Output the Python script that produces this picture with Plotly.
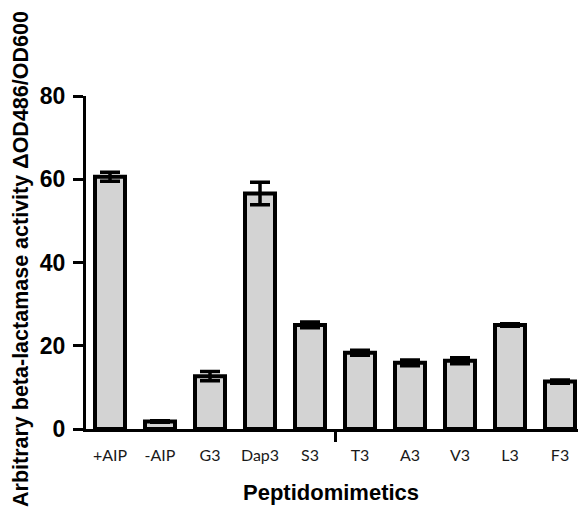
import plotly.graph_objects as go

categories = ["+AIP", "-AIP", "G3", "Dap3", "S3", "T3", "A3", "V3", "L3", "F3"]
values = [60.6, 1.8, 12.7, 56.6, 25.0, 18.3, 15.9, 16.4, 25.0, 11.4]
errors = [1.1, 0.2, 1.1, 2.7, 0.7, 0.6, 0.7, 0.7, 0.3, 0.4]
y_ticks = [0, 20, 40, 60, 80]
extra_tick = [4.5]

positions = list(range(len(categories)))

W, H = 579, 512
PL, PT, PW, PH = 86, 96, 492, 333

fig = go.Figure()
fig.add_trace(go.Bar(
    x=positions, y=values,
    width=0.6,
    marker=dict(color="#d3d3d3", line=dict(color="black", width=4)),
    error_y=dict(type="data", array=errors, visible=True, color="black",
                 thickness=3.5, width=10),
    showlegend=False,
))

fig.update_layout(
    width=W, height=H,
    margin=dict(l=PL, r=W - PL - PW, t=PT, b=H - PT - PH),
    paper_bgcolor="white", plot_bgcolor="white",
    xaxis=dict(
        range=[-0.48, 9.36], tickmode="array", tickvals=positions, ticktext=categories,
        showline=True, linecolor="black", linewidth=3, ticks="", showgrid=False,
        zeroline=False, ticklabelstandoff=10,
        tickfont=dict(family="Lato", size=16, color="#1a1a1a"),
        minor=dict(tickmode="array", tickvals=extra_tick, ticks="outside",
                   ticklen=10, tickwidth=3, tickcolor="black", showgrid=False),
    ),
    yaxis=dict(
        range=[0, 80], tickmode="array", tickvals=y_ticks,
        showline=True, linecolor="black", linewidth=3, ticks="outside",
        ticklen=10, tickwidth=3, tickcolor="black", showgrid=False, zeroline=False,
        ticklabelstandoff=3,
        tickfont=dict(family="Liberation Sans", size=23, color="black", weight="bold"),
    ),
    annotations=[
        dict(
            text="<b>Arbitrary beta-lactamase activity ΔOD486/OD600</b>",
            textangle=-90, xref="paper", yref="paper",
            x=-(PL - 21) / PW, y=(PT + PH - 259) / PH, xanchor="center", yanchor="middle",
            showarrow=False, font=dict(family="Liberation Sans", size=21.5, color="black"),
        ),
        dict(
            text="<b>Peptidomimetics</b>",
            xref="paper", yref="paper",
            x=(331 - PL) / PW, y=(PT + PH - 492) / PH, xanchor="center", yanchor="middle",
            showarrow=False, font=dict(family="Liberation Sans", size=22, color="black"),
        ),
    ],
)

fig.write_html("out.html", config={"displayModeBar": False},
               post_script="document.body.style.margin='0';document.body.style.overflow='hidden';")
